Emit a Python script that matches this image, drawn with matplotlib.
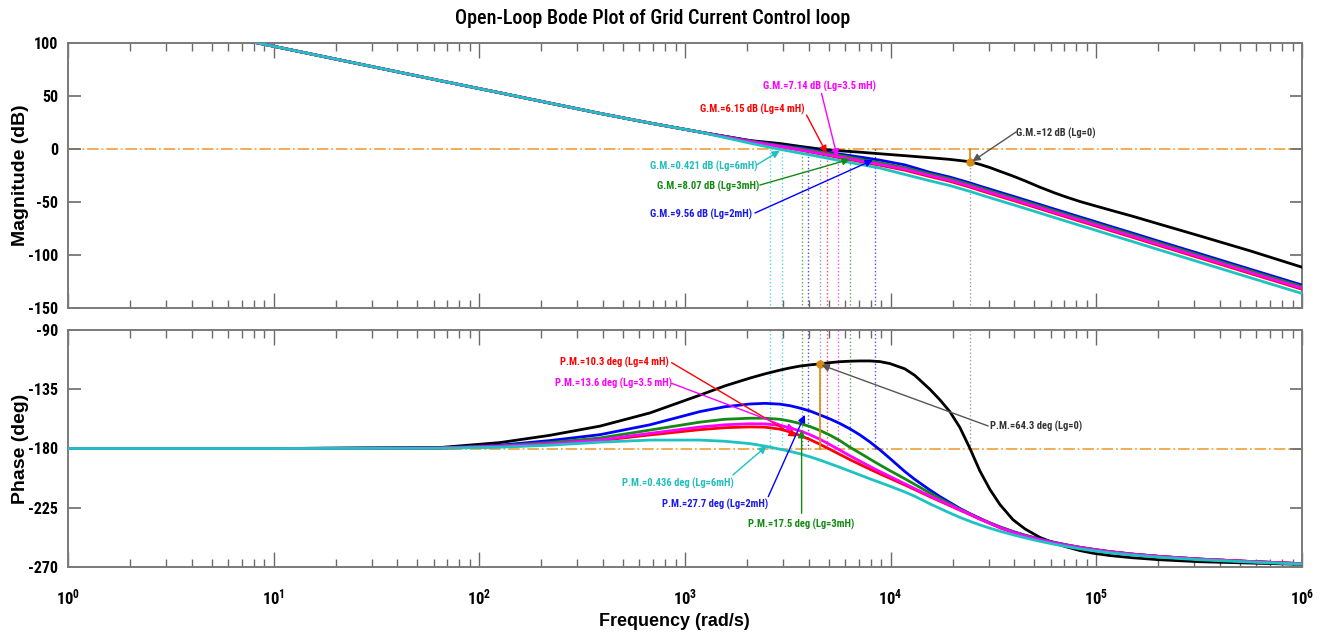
import numpy as np
import matplotlib
matplotlib.use("Agg")
import matplotlib.pyplot as plt
from matplotlib import font_manager
from matplotlib.ticker import LogLocator, FuncFormatter, NullFormatter

# ---- open-loop response of the grid current loop for several grid inductances ----
# magnitude (dB) sampled at freq_mag (rad/s)
freq_mag = [1, 10, 64, 126, 220, 386, 675, 1180, 2070, 2890, 3620, 4530, 5660, 7090,
            8860, 11720, 15510, 19400, 24300, 27140, 30360, 33960, 39280, 44920, 53130,
            62840, 71890, 83150, 96160, 116300, 150400, 203600, 318500, 557500, 1000000]

mag_low = [136.9, 96.9, 64.6, 53.0, 43.3, 33.6, 24.5, 16.0]   # shared -40 dB/dec part

mag_lg0 = mag_low + [8.0, 5.2, 2.5, 0.0, -1.7, -3.0, -4.5, -6.3, -8.2, -9.8, -12.0, -14.5,
                     -17.5, -21.0, -25.5, -30.0, -36.0, -41.5, -45.5, -49.5, -53.0, -57.5,
                     -63.5, -71.0, -82.0, -96.0, -111.5]
mag_lg2 = mag_low + [7.8, 3.5, 1.2, -1.8, -4.8, -7.6, -10.5, -15.0, -22.0, -26.5, -32.0,
                     -35.0, -37.9, -40.8, -44.5, -48.0, -52.4, -56.8, -60.3, -64.1, -67.8,
                     -72.8, -79.4, -87.3, -98.8, -113.3, -128.3]
mag_lg3 = mag_low + [7.5, 3.0, 0.4, -2.8, -6.0, -9.5, -13.0, -17.5, -23.5, -28.0, -33.5,
                     -36.5, -39.4, -42.3, -46.0, -49.5, -53.9, -58.3, -61.8, -65.6, -69.3,
                     -74.3, -80.9, -88.8, -100.3, -114.8, -129.8]
mag_lg35 = mag_low + [7.0, 2.5, -0.8, -4.0, -7.5, -11.0, -14.5, -19.0, -25.0, -29.5, -35.0,
                      -38.0, -40.9, -43.8, -47.5, -51.0, -55.4, -59.8, -63.3, -67.1, -70.8,
                      -75.8, -82.4, -90.3, -101.8, -116.3, -131.3]
mag_lg4 = mag_low + [6.8, 2.2, -1.0, -4.6, -8.3, -11.8, -15.3, -20.0, -26.0, -30.5, -36.0,
                     -39.0, -41.9, -44.8, -48.5, -52.0, -56.4, -60.8, -64.3, -68.1, -71.8,
                     -76.8, -83.4, -91.3, -102.8, -117.3, -132.3]
mag_lg6 = mag_low + [5.5, -0.3, -3.8, -7.3, -11.0, -14.5, -18.0, -24.0, -30.0, -34.5, -40.0,
                     -43.0, -45.9, -48.8, -52.5, -56.0, -60.4, -64.8, -68.3, -72.1, -75.8,
                     -80.8, -87.4, -95.3, -106.8, -121.3, -136.3]

# phase (deg) sampled at freq_ph (rad/s)
freq_ph = [1, 10, 64, 126, 220, 386, 675, 1180, 1560, 2070, 2450, 2890, 3240, 3620, 4050,
           4530, 5060, 5660, 6330, 7090, 7920, 8860, 9910, 11720, 13110, 15510, 17350,
           19400, 21700, 24300, 27140, 30360, 33960, 39280, 44920, 53130, 62840, 71890,
           83150, 96160, 116300, 150400, 203600, 318500, 557500, 1000000]

ph_lg0 = [-180, -180, -179.3, -175.5, -170.0, -163.0, -153.0, -139.5, -132.5, -126.5, -123.3,
          -120.5, -118.8, -117.4, -116.5, -115.7, -114.8, -114.1, -113.7, -113.5, -113.5,
          -114.0, -115.5, -119.5, -124.5, -135.0, -143.0, -152.0, -164.0, -180.0, -197.0,
          -211.0, -222.5, -234.0, -241.0, -247.5, -252.0, -254.8, -257.5, -259.5, -261.3,
          -263.0, -264.5, -266.0, -267.0, -268.0]
ph_lg2 = [-180, -180, -179.5, -177.5, -174.0, -169.5, -162.0, -152.0, -148.3, -146.2, -145.7,
          -146.3, -147.5, -149.3, -151.5, -154.5, -157.5, -161.0, -165.0, -169.7, -175.0,
          -181.0, -187.5, -197.5, -203.5, -211.5, -216.5, -221.0, -225.5, -229.5, -233.0,
          -236.5, -239.5, -243.0, -245.8, -248.8, -251.3, -253.2, -255.0, -256.5, -258.3,
          -260.2, -262.0, -264.0, -265.8, -267.5]
ph_lg3 = [-180, -180, -179.6, -178.0, -175.5, -172.0, -166.0, -160.0, -157.8, -157.0, -157.0,
          -157.8, -159.2, -161.0, -163.3, -166.3, -169.8, -174.0, -179.0, -183.5, -188.0,
          -192.5, -196.8, -203.0, -207.3, -213.8, -218.0, -222.0, -226.0, -229.8, -233.3,
          -236.5, -239.7, -243.2, -246.0, -249.0, -251.5, -253.3, -255.0, -256.5, -258.3,
          -260.2, -262.0, -264.0, -265.8, -267.5]
ph_lg35 = [-180, -180, -179.7, -178.3, -176.5, -173.5, -168.5, -163.7, -162.0, -161.2, -161.3,
           -162.5, -164.3, -166.6, -169.5, -173.0, -177.0, -181.2, -185.5, -189.6, -193.6,
           -197.5, -201.2, -206.8, -210.5, -216.0, -219.5, -223.0, -226.5, -230.0, -233.5,
           -236.8, -240.0, -243.5, -246.3, -249.2, -251.7, -253.5, -255.2, -256.7, -258.4,
           -260.3, -262.0, -264.0, -265.8, -267.5]
ph_lg4 = [-180, -180, -179.8, -178.6, -177.0, -174.0, -169.7, -165.7, -164.2, -163.6, -163.8,
          -165.3, -167.4, -170.1, -173.2, -176.8, -180.6, -184.5, -188.4, -192.1, -195.7,
          -199.2, -202.6, -207.7, -211.2, -216.6, -220.0, -223.4, -226.8, -230.2, -233.6,
          -236.9, -240.2, -243.8, -246.6, -249.5, -252.0, -253.8, -255.4, -256.8, -258.5,
          -260.3, -262.0, -264.0, -265.8, -267.5]
ph_lg6 = [-180, -180, -179.8, -179.0, -177.5, -175.2, -173.6, -173.6, -174.5, -176.3, -178.2,
          -180.5, -182.2, -184.0, -186.3, -188.8, -191.5, -194.3, -197.2, -200.1, -203.0,
          -205.8, -208.6, -213.0, -216.3, -222.0, -225.5, -229.0, -232.3, -235.3, -238.0,
          -240.5, -242.8, -245.5, -247.8, -250.5, -252.8, -254.5, -256.2, -257.6, -259.2,
          -261.0, -262.6, -264.5, -266.2, -267.8]

# crossover frequencies marked by dotted guide lines (rad/s)
guide_freq = [2590, 2950, 3690, 3970, 4530, 4880, 5560, 6330, 8380, 24300]
guide_key = ["lg6", "lg6", "lg3", "lg2", "lg0", "lg4", "lg35", "lg3", "lg2", "lg0"]

# Lg = 0 margin points
gm_lg0 = (24300, -12.0)
pm_lg0 = (4530, -115.7)

# margin labels: text, key, text anchor (w, value), arrow tail, arrow tip
gm_notes = [
    ("G.M.=7.14 dB (Lg=3.5 mH)", "lg35", (2392, 58.8), (4610, 52.5), (5500, -7.3)),
    ("G.M.=6.15 dB (Lg=4 mH)", "lg4", (1181, 37.5), (3900, 32.0), (4880, -4.0)),
    ("G.M.=0.421 dB (Lg=6mH)", "lg6", (675, -16.0), (2228, -15.1), (2890, -1.6)),
    ("G.M.=8.07 dB (Lg=3mH)", "lg3", (728, -34.9), (2313, -34.0), (6330, -9.7)),
    ("G.M.=9.56 dB (Lg=2mH)", "lg2", (675, -61.3), (2188, -60.4), (8190, -10.4)),
    ("G.M.=12 dB (Lg=0)", "lg0", (40900, 14.8), (40900, 16.3), (25000, -11.5)),
]
pm_notes = [
    ("P.M.=10.3 deg (Lg=4 mH)", "lg4", (246, -114.8), (861, -114.8), (3490, -171.0)),
    ("P.M.=13.6 deg (Lg=3.5 mH)", "lg35", (233, -130.5), (861, -130.5), (3420, -165.9)),
    ("P.M.=0.436 deg (Lg=6mH)", "lg6", (492, -206.4), (1710, -200.1), (2494, -178.1)),
    ("P.M.=27.7 deg (Lg=2mH)", "lg2", (769, -222.1), (2540, -216.6), (3826, -154.5)),
    ("P.M.=17.5 deg (Lg=3mH)", "lg3", (2023, -238.0), (3690, -229.2), (3690, -166.0)),
    ("P.M.=64.3 deg (Lg=0)", "lg0", (30350, -163.4), (29800, -162.9), (4610, -116.6)),
]

COLORS = {"lg0": "black", "lg2": "#0000FF", "lg3": "#138A13", "lg35": "#FF00FF",
          "lg4": "#FF0000", "lg6": "#1CC3C3"}
TEXT_COLORS = dict(COLORS, lg0="#333333", lg2="#1A1AE6", lg6="#22BDBD")
REF = "#EFA84A"
MARK = "#D98A12"

installed = {f.name for f in font_manager.fontManager.ttflist}
NARROW = next((n for n in ("Roboto Condensed", "PT Sans Narrow", "Liberation Sans")
               if n in installed), "DejaVu Sans")

plt.rcParams["font.family"] = [NARROW, "DejaVu Sans"]
plt.rcParams["axes.unicode_minus"] = False
plt.rcParams["mathtext.fontset"] = "custom"
plt.rcParams["mathtext.rm"] = NARROW + ":bold"
plt.rcParams["mathtext.default"] = "rm"

mag = {"lg0": mag_lg0, "lg2": mag_lg2, "lg3": mag_lg3, "lg35": mag_lg35,
       "lg4": mag_lg4, "lg6": mag_lg6}
ph = {"lg0": ph_lg0, "lg2": ph_lg2, "lg3": ph_lg3, "lg35": ph_lg35,
      "lg4": ph_lg4, "lg6": ph_lg6}
order = ["lg0", "lg2", "lg3", "lg4", "lg35", "lg6"]

fig = plt.figure(figsize=(13.22, 6.36), dpi=100)
ax1 = fig.add_axes([68 / 1322, 1 - 308 / 636, 1234 / 1322, 265 / 636])
ax2 = fig.add_axes([68 / 1322, 1 - 567 / 636, 1234 / 1322, 237 / 636])


def style(ax, yticks, show_x):
    ax.set_xscale("log")
    ax.set_xlim(1, 1e6)
    ax.set_yticks(yticks)
    ax.set_ylim(yticks[0], yticks[-1])
    ax.xaxis.set_major_locator(LogLocator(base=10, numticks=10))
    ax.xaxis.set_minor_locator(LogLocator(base=10, subs=np.arange(2, 10), numticks=100))
    ax.xaxis.set_minor_formatter(NullFormatter())
    if show_x:
        ax.xaxis.set_major_formatter(FuncFormatter(lambda v, p: r"$10^{%d}$" % round(np.log10(v))))
    else:
        ax.xaxis.set_major_formatter(NullFormatter())
    for s in ax.spines.values():
        s.set_color("#7a7a7a")
        s.set_linewidth(1.4)
    ax.tick_params(which="major", axis="x", direction="in", top=True, length=11, width=1,
                   color="#6a6a6a", labelsize=12, pad=15)
    ax.tick_params(which="minor", axis="x", direction="in", top=True, length=6, width=1,
                   color="#6a6a6a")
    ax.tick_params(axis="y", direction="in", right=True, length=9, width=1.2,
                   color="#6a6a6a", labelsize=11.5, pad=7)
    for lab in ax.get_yticklabels() + ax.get_xticklabels():
        lab.set_fontweight("bold")


style(ax1, [-150, -100, -50, 0, 50, 100], False)
style(ax2, [-270, -225, -180, -135, -90], True)

# reference lines
ax1.axhline(0, color=REF, lw=1.3, ls="-.", zorder=1)
ax2.axhline(-180, color=REF, lw=1.3, ls="-.", zorder=1)

# dotted guides at the crossover frequencies
for w, k in zip(guide_freq, guide_key):
    c = "#777777" if k == "lg0" else COLORS[k]
    ax1.plot([w, w], [0, -150], ls=":", lw=1, color=c, alpha=0.7, zorder=1)
    ax2.plot([w, w], [-90, -180], ls=":", lw=1, color=c, alpha=0.7, zorder=1)

for k in order:
    ax1.plot(freq_mag, mag[k], color=COLORS[k], lw=2, zorder=3)
    ax2.plot(freq_ph, ph[k], color=COLORS[k], lw=2, zorder=3)

# Lg = 0 margin markers
ax1.plot([gm_lg0[0]] * 2, [0, gm_lg0[1]], color=MARK, lw=1.2, zorder=4)
ax1.plot(*gm_lg0, "o", color=MARK, ms=5, zorder=5)
ax2.plot([pm_lg0[0]] * 2, [-180, pm_lg0[1]], color=MARK, lw=1.2, zorder=4)
ax2.plot(*pm_lg0, "o", color=MARK, ms=5, zorder=5)


def notes(ax, items):
    for text, k, pos, tail, tip in items:
        c = TEXT_COLORS[k]
        lc = "#555555" if k == "lg0" else COLORS[k]
        ax.text(pos[0], pos[1], text, color=c, fontsize=7.6, fontweight="bold",
                ha="left", va="center", zorder=6)
        ax.annotate("", xy=tip, xytext=tail, zorder=6,
                    arrowprops=dict(arrowstyle="-|>", color=lc, lw=1,
                                    mutation_scale=11, shrinkA=0, shrinkB=0))


notes(ax1, gm_notes)
notes(ax2, pm_notes)

ax1.set_ylabel("Magnitude (dB)", family="Liberation Sans", fontweight="bold", fontsize=14)
ax2.set_ylabel("Phase (deg)", family="Liberation Sans", fontweight="bold", fontsize=14)
ax1.yaxis.set_label_coords(-0.032, 0.5)
ax2.yaxis.set_label_coords(-0.032, 0.5)

fig.text(674 / 1322, 1 - 622 / 636, "Frequency (rad/s)", family="Liberation Sans",
         fontweight="bold", fontsize=13, ha="center", va="center")
fig.text(653 / 1322, 1 - 18 / 636, "Open-Loop Bode Plot of Grid Current Control loop",
         fontsize=14.5, fontweight="medium", ha="center", va="center")

fig.savefig("out.png", dpi=100, facecolor="white")
